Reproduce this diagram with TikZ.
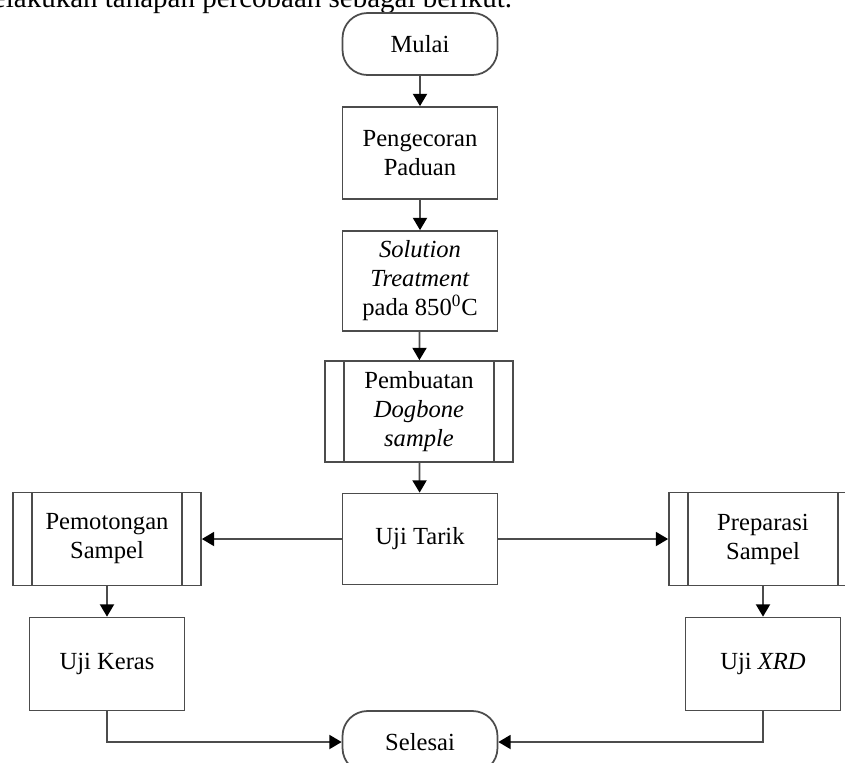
\documentclass[tikz,border=0pt]{standalone}
\usepackage{fontspec}
\setmainfont{Liberation Serif}
\usetikzlibrary{arrows.meta, positioning}

\begin{document}
\begin{tikzpicture}[x=0.02cm, y=-0.02cm, >={Triangle[length=7pt, width=8pt, color=black]},
      line width=1pt,
      every node/.style={font=\fontsize{14}{16.5}\selectfont, align=center},
      proc/.style={draw=black!70, minimum width=3.1cm, minimum height=1.86cm, inner sep=2pt},
      sub/.style={proc, minimum width=3.76cm,
                  path picture={\draw[black!70, line width=1pt]
                    ([xshift=0.38cm]path picture bounding box.north west) -- ([xshift=0.38cm]path picture bounding box.south west)
                    ([xshift=-0.38cm]path picture bounding box.north east) -- ([xshift=-0.38cm]path picture bounding box.south east);}},
      term/.style={draw=black!70, rounded corners=0.5cm, minimum width=3.1cm, minimum height=1.24cm},
      flow/.style={->, draw=black!70}]

    % page frame: the figure is cut off at top and bottom
    \path[use as bounding box] (0, 0) rectangle (845, 762);
    \clip (0, 0) rectangle (845, 762);

    % --- line of body text above the chart (only its lower half shows) ---
    \node[anchor=base east, inner sep=0pt, font=\fontsize{16.5}{18}\selectfont] (intro) at (513, 7)
        {melakukan tahapan percobaan sebagai berikut.};

    % --- main column ---
    \node[term] (mulai) at (420, 44) {Mulai};
    \node[proc, minimum height=1.84cm] (cor) at (420, 153) {Pengecoran\\Paduan};
    \node[proc, minimum height=2cm] (st) at (420, 281) {\textit{Solution}\\\textit{Treatment}\\pada 850\textsuperscript{0}C};
    \node[sub, minimum height=2.02cm] (dog) at (419, 411.5) {Pembuatan\\\textit{Dogbone}\\\textit{sample}};
    \node[proc, minimum height=1.82cm] (tarik) at (420, 539) {Uji Tarik};

    % --- side branches ---
    \node[sub] (potong) at (107, 539) {Pemotongan\\Sampel};
    \node[proc] (keras) at (107, 664) {Uji Keras};
    \node[sub] (prep) at (763, 539) {Preparasi\\Sampel};
    \node[proc] (xrd) at (763, 664) {Uji \textit{XRD}};

    \node[term] (selesai) at (420, 742) {Selesai};

    % ======= connectors =======
    \draw[flow] (mulai) -- (cor);
    \draw[flow] (cor) -- (st);
    \draw[flow] (st) -- (dog);
    \draw[flow] (dog) -- (tarik);
    \draw[flow] (tarik) -- (potong);
    \draw[flow] (tarik) -- (prep);
    \draw[flow] (potong) -- (keras);
    \draw[flow] (prep) -- (xrd);
    \draw[flow] (keras.south) |- (selesai.west);
    \draw[flow] (xrd.south) |- (selesai.east);

\end{tikzpicture}
\end{document}
